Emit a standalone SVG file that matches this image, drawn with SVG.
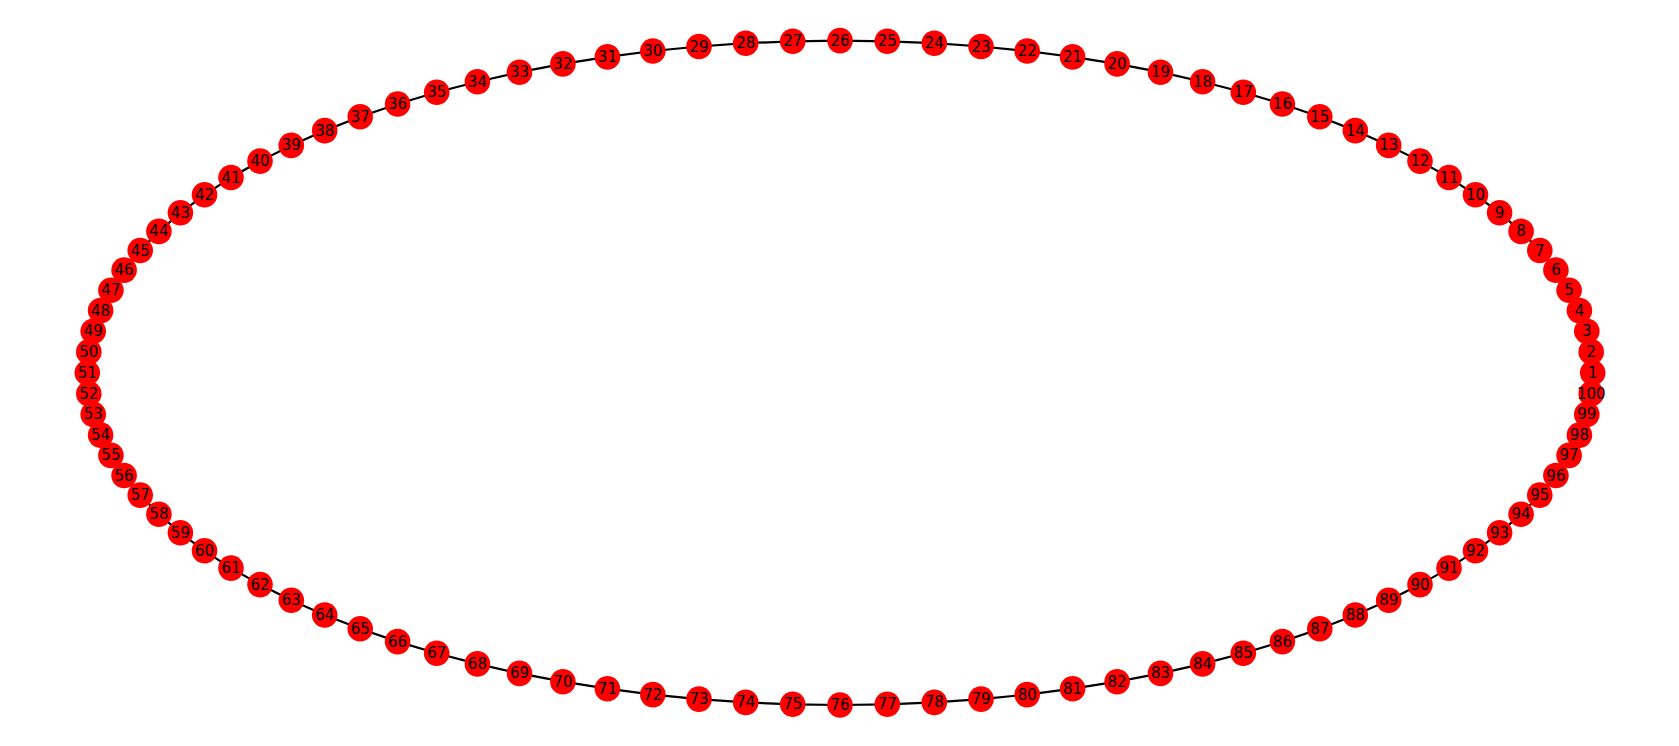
<svg xmlns="http://www.w3.org/2000/svg" width="1679" height="746" viewBox="0 0 1679 746">
<style>
.e{stroke:#000;stroke-width:2.2;fill:none}
.n circle{fill:#ff0000;stroke:none}
.n text{font-family:"DejaVu Sans",sans-serif;font-size:15px;fill:#000;text-anchor:middle;dominant-baseline:central}
</style>
<rect width="1679" height="746" fill="#fff"/>
<g id="edges" class="e">
<polygon points="1592.7,372.8 1591.2,351.9 1586.8,331.2 1579.4,310.6 1569.1,290.2 1555.9,270.1 1539.8,250.5 1521.1,231.4 1499.6,212.8 1475.5,194.8 1449.0,177.5 1420.0,161.1 1388.7,145.4 1355.3,130.6 1319.8,116.8 1282.4,104.0 1243.3,92.3 1202.6,81.7 1160.5,72.2 1117.1,63.9 1072.6,56.9 1027.2,51.0 981.0,46.5 934.3,43.2 887.3,41.3 840,40.6 792.7,41.3 745.7,43.2 699.0,46.5 652.8,51.0 607.4,56.9 562.9,63.9 519.5,72.2 477.4,81.7 436.7,92.3 397.6,104.0 360.2,116.8 324.7,130.6 291.3,145.4 260.0,161.1 231.0,177.5 204.5,194.8 180.4,212.8 158.9,231.4 140.2,250.5 124.1,270.1 110.9,290.2 100.6,310.6 93.2,331.2 88.8,351.9 87.3,372.8 88.8,393.7 93.2,414.4 100.6,435.1 110.9,455.4 124.1,475.5 140.2,495.1 158.9,514.2 180.4,532.8 204.5,550.8 231.0,568.1 260.0,584.6 291.3,600.2 324.7,615.0 360.2,628.8 397.6,641.6 436.7,653.3 477.4,663.9 519.5,673.4 562.9,681.7 607.4,688.7 652.8,694.6 699.0,699.1 745.7,702.4 792.7,704.3 840,705.0 887.3,704.3 934.3,702.4 981.0,699.1 1027.2,694.6 1072.6,688.7 1117.1,681.7 1160.5,673.4 1202.6,663.9 1243.3,653.3 1282.4,641.6 1319.8,628.8 1355.3,615.0 1388.7,600.2 1420.0,584.6 1449.0,568.1 1475.5,550.8 1499.6,532.8 1521.1,514.2 1539.8,495.1 1555.9,475.5 1569.1,455.4 1579.4,435.1 1586.8,414.4 1591.2,393.7"/>
</g>
<g id="nodes" class="n">
<g id="n1"><circle cx="1592.7" cy="372.8" r="12.8"/><text x="1592.7" y="372.8">1</text></g>
<g id="n2"><circle cx="1591.2" cy="351.9" r="12.8"/><text x="1591.2" y="351.9">2</text></g>
<g id="n3"><circle cx="1586.8" cy="331.2" r="12.8"/><text x="1586.8" y="331.2">3</text></g>
<g id="n4"><circle cx="1579.4" cy="310.6" r="12.8"/><text x="1579.4" y="310.6">4</text></g>
<g id="n5"><circle cx="1569.1" cy="290.2" r="12.8"/><text x="1569.1" y="290.2">5</text></g>
<g id="n6"><circle cx="1555.9" cy="270.1" r="12.8"/><text x="1555.9" y="270.1">6</text></g>
<g id="n7"><circle cx="1539.8" cy="250.5" r="12.8"/><text x="1539.8" y="250.5">7</text></g>
<g id="n8"><circle cx="1521.1" cy="231.4" r="12.8"/><text x="1521.1" y="231.4">8</text></g>
<g id="n9"><circle cx="1499.6" cy="212.8" r="12.8"/><text x="1499.6" y="212.8">9</text></g>
<g id="n10"><circle cx="1475.5" cy="194.8" r="12.8"/><text x="1475.5" y="194.8">10</text></g>
<g id="n11"><circle cx="1449.0" cy="177.5" r="12.8"/><text x="1449.0" y="177.5">11</text></g>
<g id="n12"><circle cx="1420.0" cy="161.1" r="12.8"/><text x="1420.0" y="161.1">12</text></g>
<g id="n13"><circle cx="1388.7" cy="145.4" r="12.8"/><text x="1388.7" y="145.4">13</text></g>
<g id="n14"><circle cx="1355.3" cy="130.6" r="12.8"/><text x="1355.3" y="130.6">14</text></g>
<g id="n15"><circle cx="1319.8" cy="116.8" r="12.8"/><text x="1319.8" y="116.8">15</text></g>
<g id="n16"><circle cx="1282.4" cy="104.0" r="12.8"/><text x="1282.4" y="104.0">16</text></g>
<g id="n17"><circle cx="1243.3" cy="92.3" r="12.8"/><text x="1243.3" y="92.3">17</text></g>
<g id="n18"><circle cx="1202.6" cy="81.7" r="12.8"/><text x="1202.6" y="81.7">18</text></g>
<g id="n19"><circle cx="1160.5" cy="72.2" r="12.8"/><text x="1160.5" y="72.2">19</text></g>
<g id="n20"><circle cx="1117.1" cy="63.9" r="12.8"/><text x="1117.1" y="63.9">20</text></g>
<g id="n21"><circle cx="1072.6" cy="56.9" r="12.8"/><text x="1072.6" y="56.9">21</text></g>
<g id="n22"><circle cx="1027.2" cy="51.0" r="12.8"/><text x="1027.2" y="51.0">22</text></g>
<g id="n23"><circle cx="981.0" cy="46.5" r="12.8"/><text x="981.0" y="46.5">23</text></g>
<g id="n24"><circle cx="934.3" cy="43.2" r="12.8"/><text x="934.3" y="43.2">24</text></g>
<g id="n25"><circle cx="887.3" cy="41.3" r="12.8"/><text x="887.3" y="41.3">25</text></g>
<g id="n26"><circle cx="840" cy="40.6" r="12.8"/><text x="840" y="40.6">26</text></g>
<g id="n27"><circle cx="792.7" cy="41.3" r="12.8"/><text x="792.7" y="41.3">27</text></g>
<g id="n28"><circle cx="745.7" cy="43.2" r="12.8"/><text x="745.7" y="43.2">28</text></g>
<g id="n29"><circle cx="699.0" cy="46.5" r="12.8"/><text x="699.0" y="46.5">29</text></g>
<g id="n30"><circle cx="652.8" cy="51.0" r="12.8"/><text x="652.8" y="51.0">30</text></g>
<g id="n31"><circle cx="607.4" cy="56.9" r="12.8"/><text x="607.4" y="56.9">31</text></g>
<g id="n32"><circle cx="562.9" cy="63.9" r="12.8"/><text x="562.9" y="63.9">32</text></g>
<g id="n33"><circle cx="519.5" cy="72.2" r="12.8"/><text x="519.5" y="72.2">33</text></g>
<g id="n34"><circle cx="477.4" cy="81.7" r="12.8"/><text x="477.4" y="81.7">34</text></g>
<g id="n35"><circle cx="436.7" cy="92.3" r="12.8"/><text x="436.7" y="92.3">35</text></g>
<g id="n36"><circle cx="397.6" cy="104.0" r="12.8"/><text x="397.6" y="104.0">36</text></g>
<g id="n37"><circle cx="360.2" cy="116.8" r="12.8"/><text x="360.2" y="116.8">37</text></g>
<g id="n38"><circle cx="324.7" cy="130.6" r="12.8"/><text x="324.7" y="130.6">38</text></g>
<g id="n39"><circle cx="291.3" cy="145.4" r="12.8"/><text x="291.3" y="145.4">39</text></g>
<g id="n40"><circle cx="260.0" cy="161.1" r="12.8"/><text x="260.0" y="161.1">40</text></g>
<g id="n41"><circle cx="231.0" cy="177.5" r="12.8"/><text x="231.0" y="177.5">41</text></g>
<g id="n42"><circle cx="204.5" cy="194.8" r="12.8"/><text x="204.5" y="194.8">42</text></g>
<g id="n43"><circle cx="180.4" cy="212.8" r="12.8"/><text x="180.4" y="212.8">43</text></g>
<g id="n44"><circle cx="158.9" cy="231.4" r="12.8"/><text x="158.9" y="231.4">44</text></g>
<g id="n45"><circle cx="140.2" cy="250.5" r="12.8"/><text x="140.2" y="250.5">45</text></g>
<g id="n46"><circle cx="124.1" cy="270.1" r="12.8"/><text x="124.1" y="270.1">46</text></g>
<g id="n47"><circle cx="110.9" cy="290.2" r="12.8"/><text x="110.9" y="290.2">47</text></g>
<g id="n48"><circle cx="100.6" cy="310.6" r="12.8"/><text x="100.6" y="310.6">48</text></g>
<g id="n49"><circle cx="93.2" cy="331.2" r="12.8"/><text x="93.2" y="331.2">49</text></g>
<g id="n50"><circle cx="88.8" cy="351.9" r="12.8"/><text x="88.8" y="351.9">50</text></g>
<g id="n51"><circle cx="87.3" cy="372.8" r="12.8"/><text x="87.3" y="372.8">51</text></g>
<g id="n52"><circle cx="88.8" cy="393.7" r="12.8"/><text x="88.8" y="393.7">52</text></g>
<g id="n53"><circle cx="93.2" cy="414.4" r="12.8"/><text x="93.2" y="414.4">53</text></g>
<g id="n54"><circle cx="100.6" cy="435.1" r="12.8"/><text x="100.6" y="435.1">54</text></g>
<g id="n55"><circle cx="110.9" cy="455.4" r="12.8"/><text x="110.9" y="455.4">55</text></g>
<g id="n56"><circle cx="124.1" cy="475.5" r="12.8"/><text x="124.1" y="475.5">56</text></g>
<g id="n57"><circle cx="140.2" cy="495.1" r="12.8"/><text x="140.2" y="495.1">57</text></g>
<g id="n58"><circle cx="158.9" cy="514.2" r="12.8"/><text x="158.9" y="514.2">58</text></g>
<g id="n59"><circle cx="180.4" cy="532.8" r="12.8"/><text x="180.4" y="532.8">59</text></g>
<g id="n60"><circle cx="204.5" cy="550.8" r="12.8"/><text x="204.5" y="550.8">60</text></g>
<g id="n61"><circle cx="231.0" cy="568.1" r="12.8"/><text x="231.0" y="568.1">61</text></g>
<g id="n62"><circle cx="260.0" cy="584.6" r="12.8"/><text x="260.0" y="584.6">62</text></g>
<g id="n63"><circle cx="291.3" cy="600.2" r="12.8"/><text x="291.3" y="600.2">63</text></g>
<g id="n64"><circle cx="324.7" cy="615.0" r="12.8"/><text x="324.7" y="615.0">64</text></g>
<g id="n65"><circle cx="360.2" cy="628.8" r="12.8"/><text x="360.2" y="628.8">65</text></g>
<g id="n66"><circle cx="397.6" cy="641.6" r="12.8"/><text x="397.6" y="641.6">66</text></g>
<g id="n67"><circle cx="436.7" cy="653.3" r="12.8"/><text x="436.7" y="653.3">67</text></g>
<g id="n68"><circle cx="477.4" cy="663.9" r="12.8"/><text x="477.4" y="663.9">68</text></g>
<g id="n69"><circle cx="519.5" cy="673.4" r="12.8"/><text x="519.5" y="673.4">69</text></g>
<g id="n70"><circle cx="562.9" cy="681.7" r="12.8"/><text x="562.9" y="681.7">70</text></g>
<g id="n71"><circle cx="607.4" cy="688.7" r="12.8"/><text x="607.4" y="688.7">71</text></g>
<g id="n72"><circle cx="652.8" cy="694.6" r="12.8"/><text x="652.8" y="694.6">72</text></g>
<g id="n73"><circle cx="699.0" cy="699.1" r="12.8"/><text x="699.0" y="699.1">73</text></g>
<g id="n74"><circle cx="745.7" cy="702.4" r="12.8"/><text x="745.7" y="702.4">74</text></g>
<g id="n75"><circle cx="792.7" cy="704.3" r="12.8"/><text x="792.7" y="704.3">75</text></g>
<g id="n76"><circle cx="840" cy="705.0" r="12.8"/><text x="840" y="705.0">76</text></g>
<g id="n77"><circle cx="887.3" cy="704.3" r="12.8"/><text x="887.3" y="704.3">77</text></g>
<g id="n78"><circle cx="934.3" cy="702.4" r="12.8"/><text x="934.3" y="702.4">78</text></g>
<g id="n79"><circle cx="981.0" cy="699.1" r="12.8"/><text x="981.0" y="699.1">79</text></g>
<g id="n80"><circle cx="1027.2" cy="694.6" r="12.8"/><text x="1027.2" y="694.6">80</text></g>
<g id="n81"><circle cx="1072.6" cy="688.7" r="12.8"/><text x="1072.6" y="688.7">81</text></g>
<g id="n82"><circle cx="1117.1" cy="681.7" r="12.8"/><text x="1117.1" y="681.7">82</text></g>
<g id="n83"><circle cx="1160.5" cy="673.4" r="12.8"/><text x="1160.5" y="673.4">83</text></g>
<g id="n84"><circle cx="1202.6" cy="663.9" r="12.8"/><text x="1202.6" y="663.9">84</text></g>
<g id="n85"><circle cx="1243.3" cy="653.3" r="12.8"/><text x="1243.3" y="653.3">85</text></g>
<g id="n86"><circle cx="1282.4" cy="641.6" r="12.8"/><text x="1282.4" y="641.6">86</text></g>
<g id="n87"><circle cx="1319.8" cy="628.8" r="12.8"/><text x="1319.8" y="628.8">87</text></g>
<g id="n88"><circle cx="1355.3" cy="615.0" r="12.8"/><text x="1355.3" y="615.0">88</text></g>
<g id="n89"><circle cx="1388.7" cy="600.2" r="12.8"/><text x="1388.7" y="600.2">89</text></g>
<g id="n90"><circle cx="1420.0" cy="584.6" r="12.8"/><text x="1420.0" y="584.6">90</text></g>
<g id="n91"><circle cx="1449.0" cy="568.1" r="12.8"/><text x="1449.0" y="568.1">91</text></g>
<g id="n92"><circle cx="1475.5" cy="550.8" r="12.8"/><text x="1475.5" y="550.8">92</text></g>
<g id="n93"><circle cx="1499.6" cy="532.8" r="12.8"/><text x="1499.6" y="532.8">93</text></g>
<g id="n94"><circle cx="1521.1" cy="514.2" r="12.8"/><text x="1521.1" y="514.2">94</text></g>
<g id="n95"><circle cx="1539.8" cy="495.1" r="12.8"/><text x="1539.8" y="495.1">95</text></g>
<g id="n96"><circle cx="1555.9" cy="475.5" r="12.8"/><text x="1555.9" y="475.5">96</text></g>
<g id="n97"><circle cx="1569.1" cy="455.4" r="12.8"/><text x="1569.1" y="455.4">97</text></g>
<g id="n98"><circle cx="1579.4" cy="435.1" r="12.8"/><text x="1579.4" y="435.1">98</text></g>
<g id="n99"><circle cx="1586.8" cy="414.4" r="12.8"/><text x="1586.8" y="414.4">99</text></g>
<g id="n100"><circle cx="1591.2" cy="393.7" r="12.8"/><text x="1591.2" y="393.7">100</text></g>
</g>
</svg>
